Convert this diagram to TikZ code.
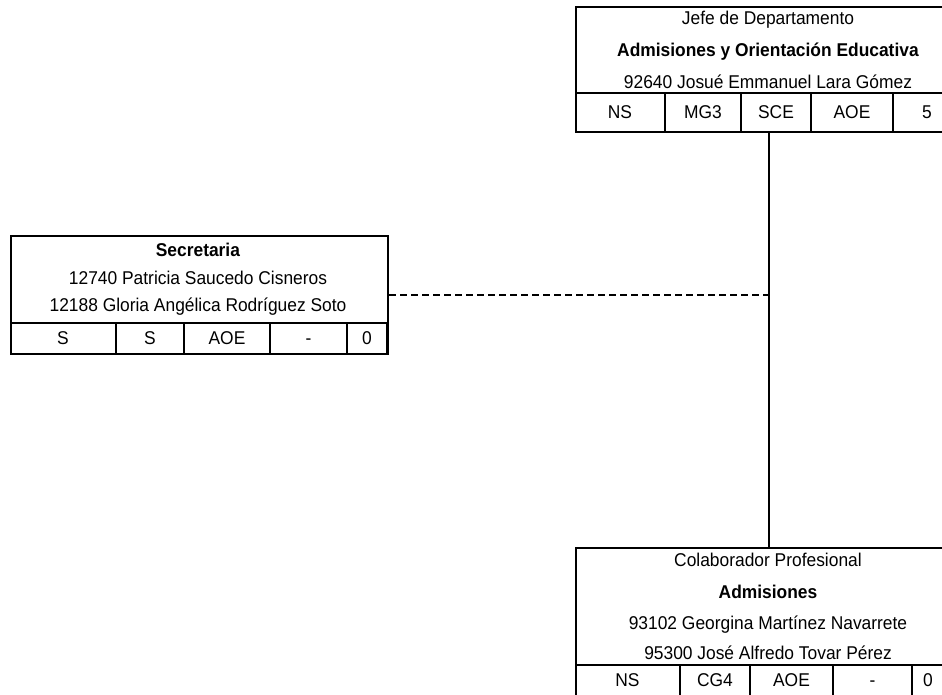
\documentclass[tikz,border=0pt]{standalone}
\usepackage{fontspec}
\setmainfont{Liberation Sans}[FakeStretch=0.94]
\tikzset{
  box/.style={draw, line width=2pt, anchor=north west, inner sep=0pt}, % outer frame of a post
  lbl/.style={inner sep=0pt, text height=13.2pt, text depth=0pt,
              font=\fontsize{18.5}{21}\selectfont},
  cell/.style={line width=2pt},
  link/.style={line width=1.5pt},
  dashlink/.style={line width=1.3pt, dash pattern=on 7pt off 4pt},
}
\begin{document}
\begin{tikzpicture}[x=1pt,y=-1pt]
    \useasboundingbox (0,0) rectangle (942,695);
    \clip (0,0) rectangle (942,695); % right and lower posts run off the page

    % Jefe de Departamento
    \node[box, minimum width=386pt, minimum height=125pt] (jefe) at (575,6) {};
    \node[lbl] (jefe t1) at (768,18) {Jefe de Departamento};
    \node[lbl] (jefe t2) at (768,50) {\textbf{Admisiones y Orientación Educativa}};
    \node[lbl] (jefe t3) at (768,82) {92640 Josué Emmanuel Lara Gómez};
    \draw[cell] (575,93) -- (961,93);
    \foreach \xa/\xb/\t [count=\i] in {575/665/NS,665/741/MG3,741/811/SCE,811/893/AOE,893/961/5}
    {
    \draw[cell] (\xb,93) -- (\xb,131);
    \node[lbl] (jefe c\i) at ({(\xa+\xb)/2},112) {\t};
    }

    % Secretaria
    \node[box, minimum width=377pt, minimum height=118pt] (secre) at (10,235) {};
    \node[lbl] (secre t1) at (198,250) {\textbf{Secretaria}};
    \node[lbl] (secre t2) at (198,278) {12740 Patricia Saucedo Cisneros};
    \node[lbl] (secre t3) at (198,305) {12188 Gloria Angélica Rodríguez Soto};
    \draw[cell] (10,323) -- (387,323);
    \foreach \xa/\xb/\t [count=\i] in {10/116/S,116/184/S,184/270/AOE,270/347/-,347/387/0}
    {
    \draw[cell] (\xb,323) -- (\xb,353);
    \node[lbl] (secre c\i) at ({(\xa+\xb)/2},338) {\t};
    }

    % Colaborador Profesional
    \node[box, minimum width=369pt, minimum height=155pt] (colab) at (575,547) {};
    \node[lbl] (colab t1) at (768,560) {Colaborador Profesional};
    \node[lbl] (colab t2) at (768,592) {\textbf{Admisiones}};
    \node[lbl] (colab t3) at (768,623) {93102 Georgina Martínez Navarrete};
    \node[lbl] (colab t4) at (768,653) {95300 José Alfredo Tovar Pérez};
    \draw[cell] (575,665) -- (944,665);
    \foreach \xa/\xb/\t [count=\i] in {575/680/NS,680/750/CG4,750/833/AOE,833/912/-,912/944/0}
    {
    \draw[cell] (\xb,665) -- (\xb,702);
    \node[lbl] (colab c\i) at ({(\xa+\xb)/2},680) {\t};
    }

    % lines of authority
    \coordinate (tap) at (secre.east -| jefe.south);
    \draw[link] (jefe.south) -- (jefe.south |- colab.north);
    \draw[dashlink] (secre.east) -- (tap);

\end{tikzpicture}
\end{document}
